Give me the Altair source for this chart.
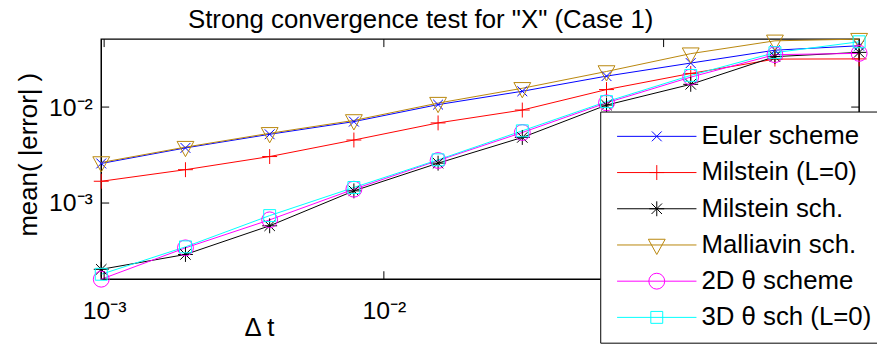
import altair as alt
import pandas as pd

FONT = "Liberation Sans"

# time steps (1/1024 ... 1/2)
dt = [1/1024, 1/512, 1/256, 1/128, 1/64, 1/32, 1/16, 1/8, 1/4, 1/2]

series_names = ["Euler scheme", "Milstein (L=0)", "Milstein sch.",
                "Malliavin sch.", "2D θ scheme", "3D θ sch (L=0)"]
colors = ["#0000ff", "#ff0000", "#000000", "#b8860b", "#ff00ff", "#00ffff"]

euler = [2.585e-3, 3.753e-3, 5.205e-3, 7.055e-3, 1.061e-2, 1.462e-2, 2.102e-2, 2.876e-2, 3.916e-2, 4.357e-2]
milstein_l0 = [1.686e-3, 2.226e-3, 3.051e-3, 4.536e-3, 6.839e-3, 9.313e-3, 1.522e-2, 2.241e-2, 3.162e-2, 3.177e-2]
milstein = [2.039e-4, 2.910e-4, 5.792e-4, 1.339e-3, 2.603e-3, 4.826e-3, 1.049e-2, 1.726e-2, 3.355e-2, 3.716e-2]
malliavin = [2.647e-3, 3.825e-3, 5.330e-3, 7.258e-3, 1.100e-2, 1.570e-2, 2.350e-2, 3.604e-2, 4.905e-2, 5.106e-2]
theta2d = [1.608e-4, 3.412e-4, 6.680e-4, 1.394e-3, 2.775e-3, 5.433e-3, 1.107e-2, 2.053e-2, 3.519e-2, 3.629e-2]
theta3d = [1.810e-4, 3.494e-4, 7.396e-4, 1.452e-3, 2.821e-3, 5.656e-3, 1.139e-2, 2.138e-2, 3.690e-2, 4.790e-2]
series_values = [euler, milstein_l0, milstein, malliavin, theta2d, theta3d]

x_ticks = [1e-3, 1e-2, 1e-1]
y_ticks = [1e-3, 1e-2]

# marker shapes (x, +, *, v, o, s)
shapes = [
    "M-0.62,-0.62L0.62,0.62M-0.62,0.62L0.62,-0.62",
    "M-0.94,0H0.94M0,-0.94V0.94",
    "M-0.94,0H0.94M0,-0.94V0.94M-0.66,-0.66L0.66,0.66M-0.66,0.66L0.66,-0.66",
    "M-1.06,-0.72L1.06,-0.72L0,1.2Z",
    "circle",
    "M-0.75,-0.75H0.75V0.75H-0.75Z",
]

rows = []
for i, (name, vals) in enumerate(zip(series_names, series_values)):
    for d, v in zip(dt, vals):
        rows.append({"dt": d, "err": v, "series": name, "order": i})
df = pd.DataFrame(rows)

sup_expr = ("'10\u207b' + ['\u2070','\u00b9','\u00b2','\u00b3','\u2074']"
            "[round(-log(datum.value)/LN10)]")

xscale = alt.Scale(type="log", nice=False, zero=False)
yscale = alt.Scale(type="log", nice=False, zero=False)

x_axis = alt.Axis(values=x_ticks, labelExpr=sup_expr, title="Δ t", grid=False,
                  ticks=False, tickSize=0, domain=False, labelPadding=40,
                  labelBaseline="alphabetic", labelFontSize=25, labelFont=FONT,
                  labelColor="black", labelFlush=False, labelOverlap=False,
                  titleFontSize=26, titleFont=FONT, titleFontWeight="normal",
                  titleColor="black", titleX=159, titleY=57,
                  titleBaseline="alphabetic", titleAlign="center")
y_axis = alt.Axis(values=y_ticks, labelExpr=sup_expr, title="mean( |error| )",
                  grid=False, ticks=False, tickSize=0, domain=False,
                  labelPadding=9, labelFontSize=25, labelFont=FONT,
                  labelColor="black", labelFlush=False, labelOverlap=False,
                  titleFontSize=26, titleFont=FONT, titleFontWeight="normal",
                  titleColor="black", titleX=-65, titleY=116, titleAngle=270,
                  titleBaseline="alphabetic", titleAlign="center")

common_leg = dict(orient="none", legendX=503, legendY=73, title=None,
                  symbolSize=256, symbolStrokeWidth=1, labelFontSize=26,
                  labelFont=FONT, labelColor="black", labelOffset=32,
                  symbolOffset=32, padding=12, rowPadding=10.5, labelLimit=400)

line_legend = alt.Legend(symbolType="M-5,0H5", fillColor="white",
                         strokeColor="black", zindex=0, **common_leg)
marker_legend = alt.Legend(labelOpacity=0, zindex=1, **common_leg)

base = alt.Chart(df)
lines = base.mark_line(strokeWidth=1).encode(
    x=alt.X("dt:Q", scale=xscale, axis=x_axis),
    y=alt.Y("err:Q", scale=yscale, axis=y_axis),
    color=alt.Color("series:N", scale=alt.Scale(domain=series_names, range=colors),
                    legend=line_legend),
)
points = base.mark_point(filled=False, size=256, strokeWidth=1, opacity=1).encode(
    x=alt.X("dt:Q", scale=xscale),
    y=alt.Y("err:Q", scale=yscale),
    color=alt.Color("series:N", scale=alt.Scale(domain=series_names, range=colors),
                    legend=marker_legend),
    shape=alt.Shape("series:N", scale=alt.Scale(domain=series_names, range=shapes),
                    legend=marker_legend),
)

xt = alt.Chart(pd.DataFrame({"dt": x_ticks}))
yt = alt.Chart(pd.DataFrame({"err": y_ticks}))
tick_style = dict(color="black", strokeWidth=1)
top_ticks = xt.mark_rule(**tick_style).encode(
    x=alt.X("dt:Q", scale=xscale), y=alt.value(0), y2=alt.value(8))
bot_ticks = xt.mark_rule(**tick_style).encode(
    x=alt.X("dt:Q", scale=xscale), y=alt.value(234), y2=alt.value(242))
left_ticks = yt.mark_rule(**tick_style).encode(
    y=alt.Y("err:Q", scale=yscale), x=alt.value(0), x2=alt.value(8))
right_ticks = yt.mark_rule(**tick_style).encode(
    y=alt.Y("err:Q", scale=yscale), x=alt.value(756), x2=alt.value(764))

chart = alt.layer(lines, points, top_ticks, bot_ticks, left_ticks, right_ticks).resolve_scale(
    color="independent", shape="independent"
).resolve_legend(color="independent", shape="independent").properties(
    width=764, height=242,
    padding={"left": 94, "top": 30, "right": 18, "bottom": 71},
    autosize=alt.AutoSizeParams(type="none"),
    background="white",
    title=alt.TitleParams('Strong convergence test for "X" (Case 1)', fontSize=26,
                          font=FONT, fontWeight="normal", color="black",
                          anchor="middle", frame="group", dx=-60, dy=33, offset=10,
                          baseline="alphabetic"),
).configure_view(stroke="black", strokeWidth=1.5)

chart.save("out.html", embed_options={"renderer": "svg", "actions": False})
